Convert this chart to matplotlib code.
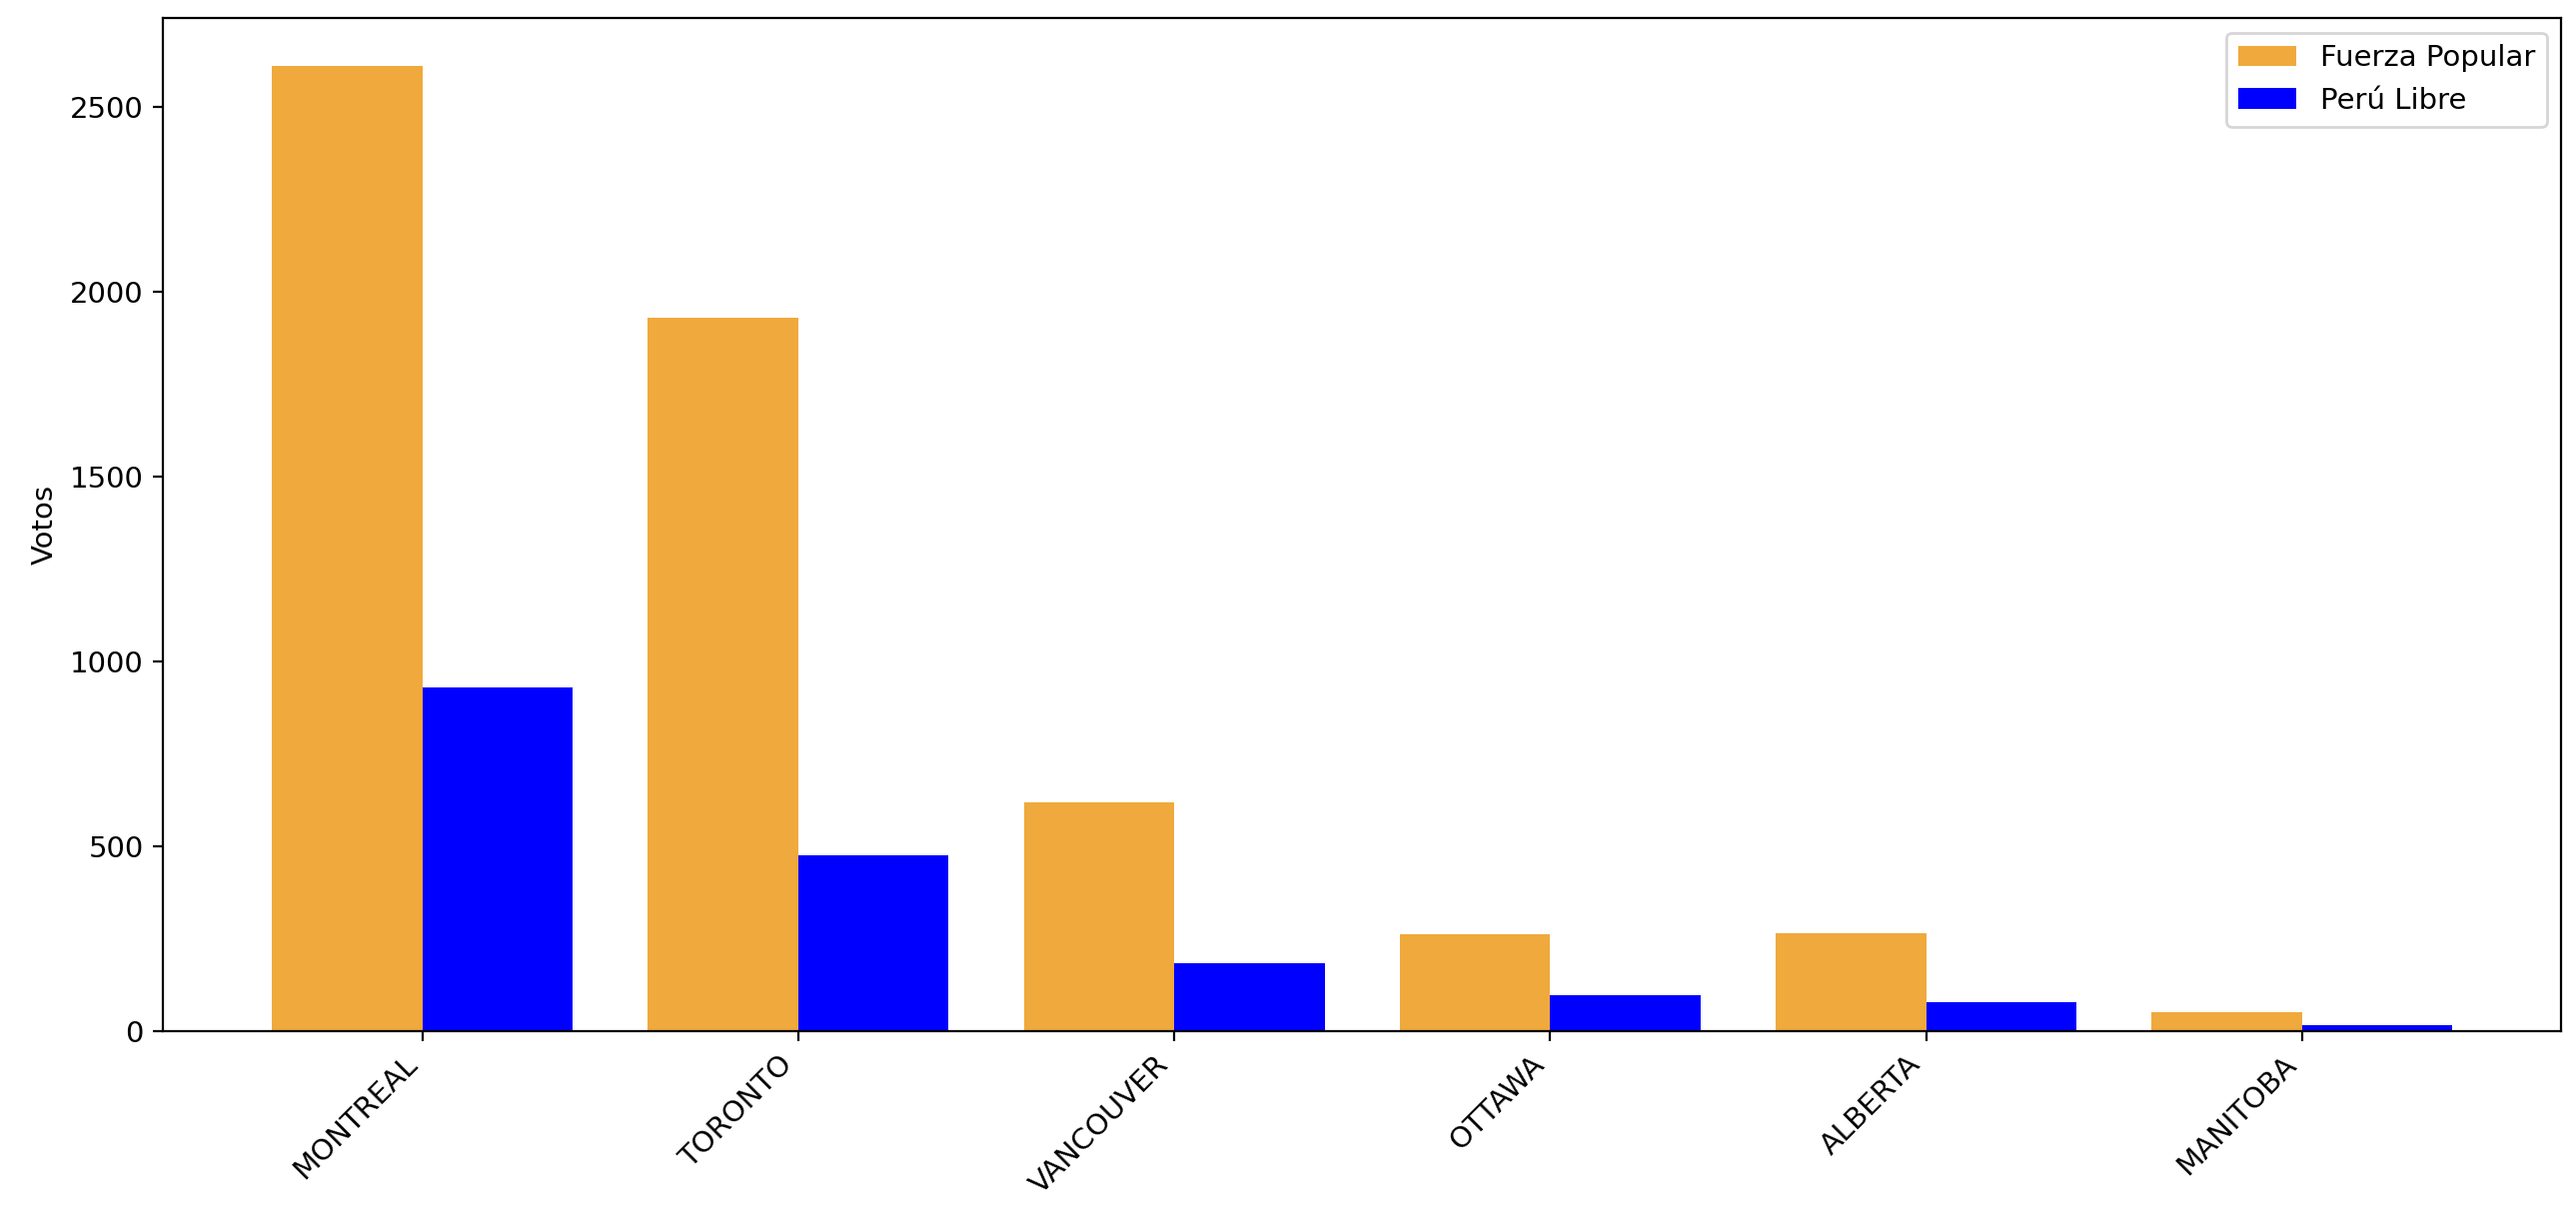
import numpy as np
import matplotlib
matplotlib.use("Agg")
import matplotlib.pyplot as plt

ciudades = ["MONTREAL", "TORONTO", "VANCOUVER", "OTTAWA", "ALBERTA", "MANITOBA"]
fuerza_popular = [2611, 1930, 618, 261, 264, 50]
peru_libre = [929, 476, 182, 96, 77, 15]

plt.rcParams['font.size'] = 10.5

x = np.arange(len(ciudades))
ancho = 0.4

fig = plt.figure(figsize=(12.89, 6.09), dpi=200)
ax = fig.add_axes([0.0633, 0.1530, 0.9310, 0.8322])

ax.bar(x - ancho / 2, fuerza_popular, ancho, color="#F0A93C", label="Fuerza Popular")
ax.bar(x + ancho / 2, peru_libre, ancho, color="blue", label="Perú Libre")

ax.set_xticks(x)
ax.set_xticklabels(ciudades, rotation=45, ha="right")
ax.set_ylabel("Votos")
ax.legend(loc="upper right")

fig.savefig("out.png", dpi=200)
